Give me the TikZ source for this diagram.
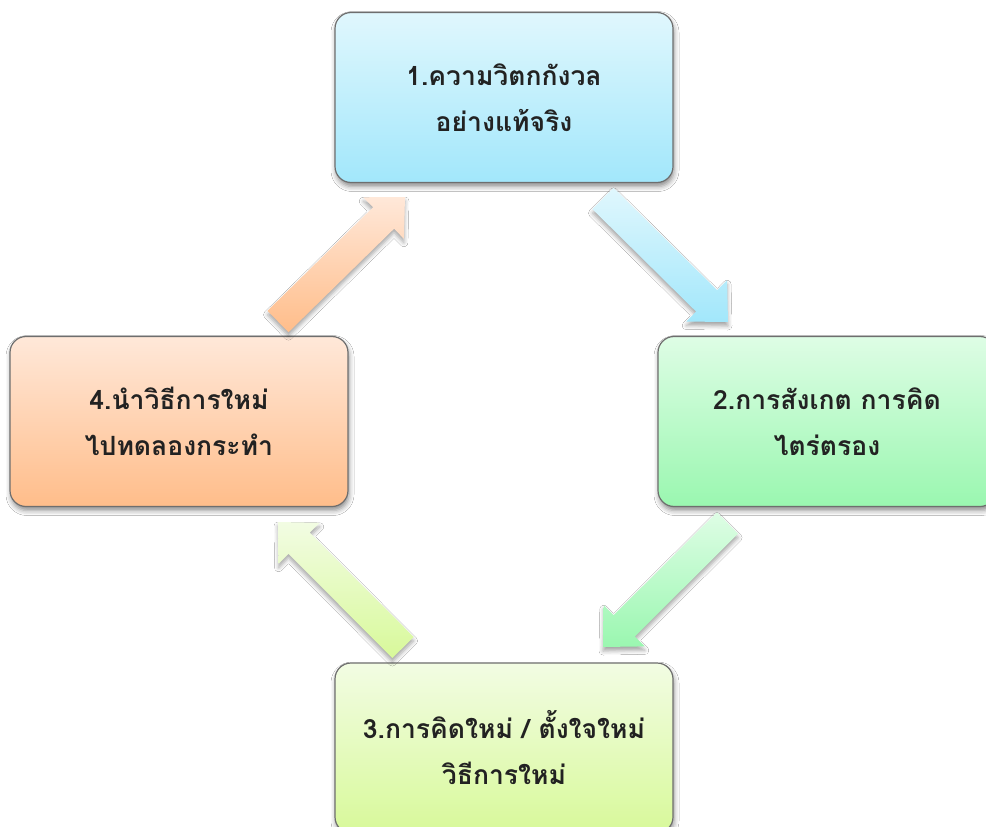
\documentclass[tikz,border=0pt]{standalone}
\usepackage{fontspec}
\newfontfamily\thaifont[Script=Thai]{Loma}
\usetikzlibrary{calc,shadows.blur}
\definecolor{boxborder}{HTML}{6E6E6E}
\definecolor{cA}{HTML}{E0F7FD}\definecolor{cB}{HTML}{A2E7FB}
\definecolor{gA}{HTML}{DEFDE5}\definecolor{gB}{HTML}{9AF7B0}
\definecolor{lA}{HTML}{F2FCE3}\definecolor{lB}{HTML}{D8F99A}
\definecolor{oA}{HTML}{FFE8D9}\definecolor{oB}{HTML}{FFBD8A}
\definecolor{txt}{HTML}{222222}
\newcommand\blockarrow[5]{% #1 prefix, #2 tail, #3 tip, #4 top colour, #5 bottom colour
  \coordinate (#1base) at ($(#3)!30pt!(#2)$);
  \path[arrowshadow, top color=#4, bottom color=#5]
    ($(#2)!15pt!90:(#3)$) -- ($(#1base)!15pt!90:(#3)$) -- ($(#1base)!29pt!90:(#3)$)
    -- (#3) -- ($(#1base)!29pt!-90:(#3)$) -- ($(#1base)!15pt!-90:(#3)$)
    -- ($(#2)!15pt!-90:(#3)$) -- cycle;
}
\begin{document}
\begin{tikzpicture}[x=1pt,y=-1pt,
  box/.style={draw=boxborder, line width=1.2pt, rounded corners=16pt,
    minimum width=338pt, minimum height=170pt, align=center, text=txt,
    font=\thaifont\bfseries\fontsize{26.5}{46}\selectfont,
    blur shadow={shadow xshift=1pt, shadow yshift=-4pt, shadow blur radius=5pt, shadow opacity=45}},
  arrowshadow/.style={blur shadow={shadow xshift=0pt, shadow yshift=-4pt, shadow blur radius=4pt, shadow opacity=35}}]
\useasboundingbox (0,0) rectangle (986,827);
\clip (0,0) rectangle (986,827);
\fill[white] (0,0) rectangle (986,827);

\node[box, top color=cA, bottom color=cB] (b1) at (504,97.5) {1.ความวิตกกังวล\\อย่างแท้จริง};
\node[box, top color=gA, bottom color=gB] (b2) at (827,421.5) {2.การสังเกต การคิด\\ไตร่ตรอง};
\node[box, top color=lA, bottom color=lB] (b3) at (504,748) {3.การคิดใหม่ / ตั้งใจใหม่\\วิธีการใหม่};
\node[box, top color=oA, bottom color=oB] (b4) at (179,421.5) {4.นำวิธีการใหม่\\ไปทดลองกระทำ};

\coordinate (a1t) at (603,198.5); \coordinate (a1h) at (728,322);
\coordinate (a2t) at (727.5,523); \coordinate (a2h) at (603,647);
\coordinate (a3t) at (403,647.5); \coordinate (a3h) at (278,522);
\coordinate (a4t) at (278,321.5); \coordinate (a4h) at (405,197);

\blockarrow{a1}{a1t}{a1h}{cA}{cB}
\blockarrow{a2}{a2t}{a2h}{gA}{gB}
\blockarrow{a3}{a3t}{a3h}{lA}{lB}
\blockarrow{a4}{a4t}{a4h}{oA}{oB}
\end{tikzpicture}
\end{document}
